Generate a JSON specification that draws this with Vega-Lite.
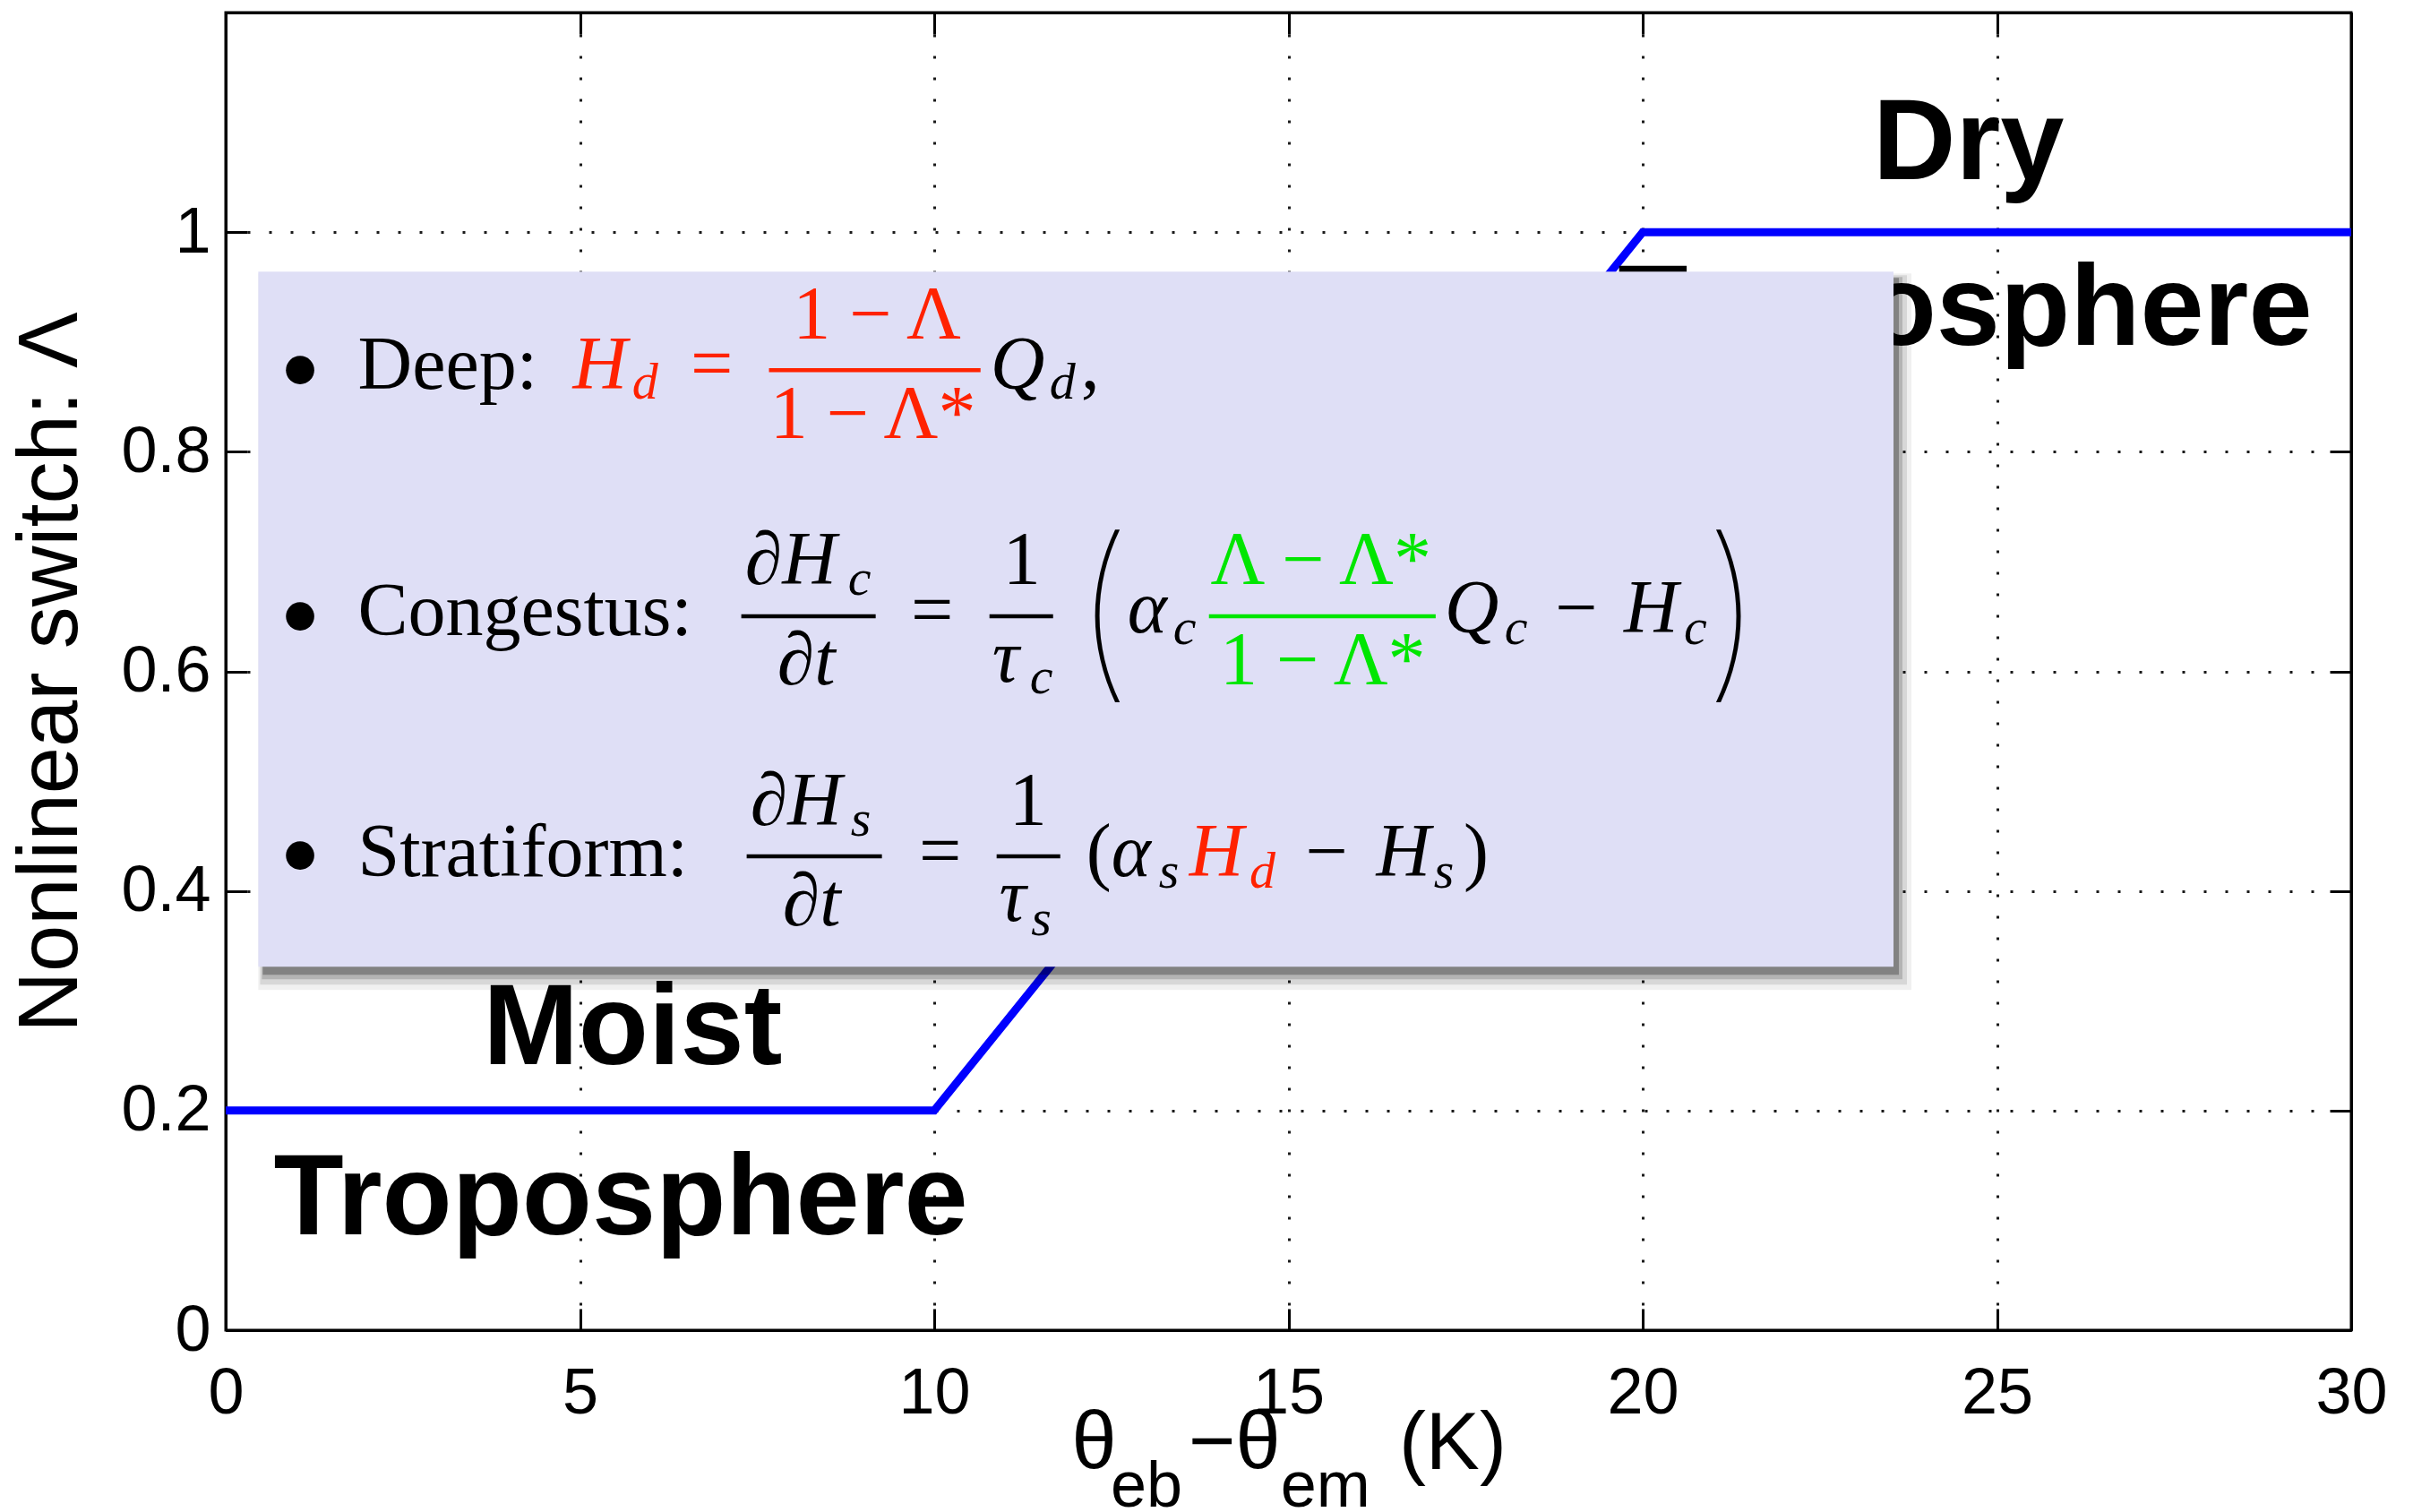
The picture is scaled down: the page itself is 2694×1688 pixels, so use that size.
{
  "$schema": "https://vega.github.io/schema/vega-lite/v6.json",
  "width": 2373,
  "height": 1471,
  "autosize": {"type": "none"},
  "padding": {"left": 252, "top": 14, "right": 69, "bottom": 203},
  "background": "white",
  "config": {
    "view": {"stroke": "black", "strokeWidth": 3},
    "axis": {
      "labelFont": "Liberation Sans",
      "labelFontSize": 72,
      "labelColor": "black",
      "tickColor": "black",
      "tickWidth": 3,
      "tickSize": -24,
      "domainColor": "black",
      "domainWidth": 3,
      "labelFlush": false,
      "labelOverlap": false,
      "gridColor": "#1a1a1a",
      "gridDash": [3, 21],
      "gridWidth": 3,
      "gridOpacity": 1
    }
  },
  "datasets": {
    "lambda": [
      {"x": 0, "y": 0.2},
      {"x": 10, "y": 0.2},
      {"x": 20, "y": 1},
      {"x": 30, "y": 1}
    ],
    "regions": [
      {"label": "Dry", "x": 23.25, "y": 1.048},
      {"label": "Troposphere", "x": 19.65, "y": 0.897},
      {"label": "Moist", "x": 3.63, "y": 0.2423},
      {"label": "Troposphere", "x": 0.677, "y": 0.0873}
    ],
    "box": [
      {"x": 0.46, "x2": 23.54, "y": 0.964, "y2": 0.331}
    ],
    "bullets": [
      {"x": 1.05, "y": 0.8744},
      {"x": 1.05, "y": 0.6501},
      {"x": 1.05, "y": 0.4323}
    ],
    "bars": [
      {"x": 7.668, "x2": 10.654, "y": 0.8744, "h": "r"},
      {"x": 7.277, "x2": 9.174, "y": 0.6501, "h": "k"},
      {"x": 10.78, "x2": 11.678, "y": 0.6501, "h": "k"},
      {"x": 13.878, "x2": 17.078, "y": 0.6501, "h": "g"},
      {"x": 7.353, "x2": 9.262, "y": 0.4315, "h": "k"},
      {"x": 10.881, "x2": 11.779, "y": 0.4315, "h": "k"}
    ],
    "eq": [
      {"t": "Deep:", "k": "word", "h": "k", "x": 1.865, "y": 0.8573},
      {"t": "H", "k": "var", "h": "r", "x": 4.9, "y": 0.8573},
      {"t": "d", "k": "sub", "h": "r", "x": 5.735, "y": 0.8483},
      {"t": "=", "k": "op", "h": "r", "x": 6.86, "y": 0.8573},
      {"t": "1 − Λ", "k": "num", "h": "r", "x": 9.193, "y": 0.9029},
      {"t": "1 − Λ*", "k": "num", "h": "r", "x": 9.136, "y": 0.8124},
      {"t": "Q", "k": "var", "h": "k", "x": 10.793, "y": 0.8573},
      {"t": "d", "k": "sub", "h": "k", "x": 11.627, "y": 0.8483},
      {"t": ",", "k": "word", "h": "k", "x": 12.07, "y": 0.8573},

      {"t": "Congestus:", "k": "word", "h": "k", "x": 1.865, "y": 0.633},
      {"t": "∂H", "k": "var", "h": "k", "x": 7.328, "y": 0.6794},
      {"t": "c", "k": "sub", "h": "k", "x": 8.782, "y": 0.6697},
      {"t": "∂t", "k": "var", "h": "k", "x": 7.783, "y": 0.5881},
      {"t": "=", "k": "op", "h": "k", "x": 9.971, "y": 0.633},
      {"t": "1", "k": "num", "h": "k", "x": 11.236, "y": 0.6794},
      {"t": "τ", "k": "var", "h": "k", "x": 10.818, "y": 0.5905},
      {"t": "c", "k": "sub", "h": "k", "x": 11.35, "y": 0.5799},
      {"t": "(", "k": "big", "h": "k", "x": 11.96, "y": 0.648},
      {"t": "α", "k": "var", "h": "k", "x": 12.728, "y": 0.6354},
      {"t": "c", "k": "sub", "h": "k", "x": 13.372, "y": 0.6248},
      {"t": "Λ − Λ*", "k": "num", "h": "g", "x": 15.459, "y": 0.6794},
      {"t": "1 − Λ*", "k": "num", "h": "g", "x": 15.484, "y": 0.5881},
      {"t": "Q", "k": "var", "h": "k", "x": 17.204, "y": 0.6354},
      {"t": "c", "k": "sub", "h": "k", "x": 18.05, "y": 0.6248},
      {"t": "−", "k": "op", "h": "k", "x": 19.063, "y": 0.6354},
      {"t": "H", "k": "var", "h": "k", "x": 19.734, "y": 0.6354},
      {"t": "c", "k": "sub", "h": "k", "x": 20.58, "y": 0.6248},
      {"t": ")", "k": "big", "h": "k", "x": 20.85, "y": 0.648},

      {"t": "Stratiform:", "k": "word", "h": "k", "x": 1.865, "y": 0.4135},
      {"t": "∂H", "k": "var", "h": "k", "x": 7.404, "y": 0.46},
      {"t": "s", "k": "sub", "h": "k", "x": 8.82, "y": 0.4502},
      {"t": "∂t", "k": "var", "h": "k", "x": 7.859, "y": 0.3687},
      {"t": "=", "k": "op", "h": "k", "x": 10.084, "y": 0.4135},
      {"t": "1", "k": "num", "h": "k", "x": 11.324, "y": 0.46},
      {"t": "τ", "k": "var", "h": "k", "x": 10.918, "y": 0.3728},
      {"t": "s", "k": "sub", "h": "k", "x": 11.37, "y": 0.3597},
      {"t": "(", "k": "paren", "h": "k", "x": 12.146, "y": 0.4135},
      {"t": "α", "k": "var", "h": "k", "x": 12.5, "y": 0.4135},
      {"t": "s", "k": "sub", "h": "k", "x": 13.17, "y": 0.4029},
      {"t": "H", "k": "var", "h": "r", "x": 13.6, "y": 0.4135},
      {"t": "d", "k": "sub", "h": "r", "x": 14.45, "y": 0.4029},
      {"t": "−", "k": "op", "h": "k", "x": 15.54, "y": 0.4135},
      {"t": "H", "k": "var", "h": "k", "x": 16.24, "y": 0.4135},
      {"t": "s", "k": "sub", "h": "k", "x": 17.05, "y": 0.4029},
      {"t": ")", "k": "paren", "h": "k", "x": 17.47, "y": 0.4135}
    ],
    "xtitle": [
      {"t": "θ", "k": "xt", "x": 11.94, "y": -0.1256},
      {"t": "eb", "k": "xs", "x": 12.49, "y": -0.161},
      {"t": "−θ", "k": "xt", "x": 13.59, "y": -0.1256},
      {"t": "em", "k": "xs", "x": 14.89, "y": -0.161},
      {"t": "(K)", "k": "xt", "x": 16.56, "y": -0.1264}
    ]
  },
  "encoding": {
    "x": {"field": "x", "type": "quantitative", "scale": {"domain": [0, 30], "nice": false, "zero": false}, "axis": null},
    "y": {"field": "y", "type": "quantitative", "scale": {"domain": [0, 1.2], "nice": false, "zero": false}, "axis": null}
  },
  "layer": [
    {
      "data": {"name": "lambda"},
      "mark": {"type": "line", "color": "#0000ff", "strokeWidth": 9, "strokeJoin": "miter"},
      "encoding": {
        "x": {
          "field": "x", "type": "quantitative",
          "scale": {"domain": [0, 30], "nice": false, "zero": false},
          "axis": {"orient": "bottom", "values": [0, 5, 10, 15, 20, 25, 30], "format": "d", "grid": true, "labelPadding": 59, "title": null}
        },
        "y": {
          "field": "y", "type": "quantitative",
          "scale": {"domain": [0, 1.2], "nice": false, "zero": false},
          "axis": {
            "orient": "left", "values": [0, 0.2, 0.4, 0.6, 0.8, 1], "format": ".1~f", "grid": true, "labelPadding": 41,
            "title": "Nonlinear switch: Λ", "titleFont": "Liberation Sans", "titleFontSize": 94, "titleFontWeight": "normal",
            "titleColor": "black", "titleAngle": 270, "titleX": -167, "titleY": 736, "titleBaseline": "alphabetic", "titleAlign": "center"
          }
        }
      }
    },
    {
      "data": {"name": "lambda"},
      "mark": {"type": "line", "opacity": 0},
      "encoding": {
        "x": {
          "field": "x", "type": "quantitative",
          "scale": {"domain": [0, 30], "nice": false, "zero": false},
          "axis": {"orient": "top", "values": [0, 5, 10, 15, 20, 25, 30], "labels": false, "grid": false, "title": null}
        },
        "y": {
          "field": "y", "type": "quantitative",
          "scale": {"domain": [0, 1.2], "nice": false, "zero": false},
          "axis": {"orient": "right", "values": [0, 0.2, 0.4, 0.6, 0.8, 1], "labels": false, "grid": false, "title": null}
        }
      }
    },
    {
      "data": {"name": "regions"},
      "mark": {"type": "text", "font": "Liberation Sans", "fontWeight": "bold", "fontSize": 128, "align": "left", "baseline": "alphabetic", "color": "black"},
      "encoding": {"text": {"field": "label"}}
    },
    {
      "data": {"name": "box"},
      "mark": {"type": "rect", "color": "black", "opacity": 0.06, "xOffset": 0, "x2Offset": 20, "yOffset": 2, "y2Offset": 26},
      "encoding": {"x2": {"field": "x2"}, "y2": {"field": "y2"}}
    },
    {
      "data": {"name": "box"},
      "mark": {"type": "rect", "color": "black", "opacity": 0.1, "xOffset": 2, "x2Offset": 15, "yOffset": 4, "y2Offset": 20},
      "encoding": {"x2": {"field": "x2"}, "y2": {"field": "y2"}}
    },
    {
      "data": {"name": "box"},
      "mark": {"type": "rect", "color": "black", "opacity": 0.16, "xOffset": 4, "x2Offset": 10, "yOffset": 6, "y2Offset": 14},
      "encoding": {"x2": {"field": "x2"}, "y2": {"field": "y2"}}
    },
    {
      "data": {"name": "box"},
      "mark": {"type": "rect", "color": "black", "opacity": 0.28, "xOffset": 5, "x2Offset": 6, "yOffset": 7, "y2Offset": 9},
      "encoding": {"x2": {"field": "x2"}, "y2": {"field": "y2"}}
    },
    {
      "data": {"name": "box"},
      "mark": {"type": "rect", "color": "#dfdff6", "opacity": 1},
      "encoding": {"x2": {"field": "x2"}, "y2": {"field": "y2"}}
    },
    {
      "data": {"name": "bars"},
      "mark": {"type": "rule", "strokeWidth": 4.5},
      "encoding": {
        "x2": {"field": "x2"},
        "color": {"field": "h", "type": "nominal", "scale": {"domain": ["k", "r", "g"], "range": ["#000000", "#ff2200", "#00e600"]}, "legend": null}
      }
    },
    {
      "data": {"name": "bullets"},
      "mark": {"type": "point", "shape": "circle", "filled": true, "size": 1000, "color": "black", "opacity": 1}
    },
    {
      "data": {"name": "eq"},
      "transform": [{"filter": "datum.k === 'word'"}],
      "mark": {"type": "text", "font": "Liberation Serif", "fontSize": 84, "align": "left", "baseline": "alphabetic"},
      "encoding": {
        "text": {"field": "t"},
        "color": {"field": "h", "type": "nominal", "scale": {"domain": ["k", "r", "g"], "range": ["#000000", "#ff2200", "#00e600"]}, "legend": null}
      }
    },
    {
      "data": {"name": "eq"},
      "transform": [{"filter": "datum.k === 'var'"}],
      "mark": {"type": "text", "font": "Liberation Serif", "fontStyle": "italic", "fontSize": 84, "align": "left", "baseline": "alphabetic"},
      "encoding": {
        "text": {"field": "t"},
        "color": {"field": "h", "type": "nominal", "scale": {"domain": ["k", "r", "g"], "range": ["#000000", "#ff2200", "#00e600"]}, "legend": null}
      }
    },
    {
      "data": {"name": "eq"},
      "transform": [{"filter": "datum.k === 'sub'"}],
      "mark": {"type": "text", "font": "Liberation Serif", "fontStyle": "italic", "fontSize": 58, "align": "left", "baseline": "alphabetic"},
      "encoding": {
        "text": {"field": "t"},
        "color": {"field": "h", "type": "nominal", "scale": {"domain": ["k", "r", "g"], "range": ["#000000", "#ff2200", "#00e600"]}, "legend": null}
      }
    },
    {
      "data": {"name": "eq"},
      "transform": [{"filter": "datum.k === 'num' || datum.k === 'op'"}],
      "mark": {"type": "text", "font": "Liberation Serif", "fontSize": 84, "align": "center", "baseline": "alphabetic"},
      "encoding": {
        "text": {"field": "t"},
        "color": {"field": "h", "type": "nominal", "scale": {"domain": ["k", "r", "g"], "range": ["#000000", "#ff2200", "#00e600"]}, "legend": null}
      }
    },
    {
      "data": {"name": "eq"},
      "transform": [{"filter": "datum.k === 'paren'"}],
      "mark": {"type": "text", "font": "Liberation Serif", "fontSize": 84, "align": "left", "baseline": "alphabetic"},
      "encoding": {
        "text": {"field": "t"},
        "color": {"field": "h", "type": "nominal", "scale": {"domain": ["k", "r", "g"], "range": ["#000000", "#ff2200", "#00e600"]}, "legend": null}
      }
    },
    {
      "data": {"name": "eq"},
      "transform": [{"filter": "datum.k === 'big'"}],
      "mark": {"type": "text", "font": "Inter", "fontWeight": 100, "fontSize": 212, "align": "left", "baseline": "middle"},
      "encoding": {
        "text": {"field": "t"},
        "color": {"field": "h", "type": "nominal", "scale": {"domain": ["k", "r", "g"], "range": ["#000000", "#ff2200", "#00e600"]}, "legend": null}
      }
    },
    {
      "data": {"name": "xtitle"},
      "transform": [{"filter": "datum.k === 'xt'"}],
      "mark": {"type": "text", "font": "Liberation Sans", "fontSize": 90, "align": "left", "baseline": "alphabetic", "color": "black"},
      "encoding": {"text": {"field": "t"}}
    },
    {
      "data": {"name": "xtitle"},
      "transform": [{"filter": "datum.k === 'xs'"}],
      "mark": {"type": "text", "font": "Liberation Sans", "fontSize": 72, "align": "left", "baseline": "alphabetic", "color": "black"},
      "encoding": {"text": {"field": "t"}}
    }
  ],
  "resolve": {"axis": {"x": "independent", "y": "independent"}}
}
